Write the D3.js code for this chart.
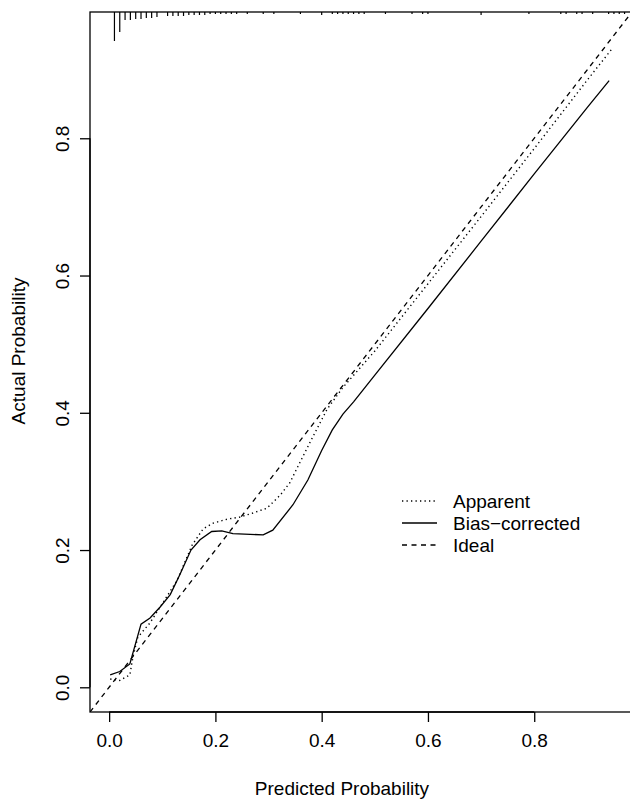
<!DOCTYPE html>
<html>
<head>
<meta charset="utf-8">
<script src="https://cdn.jsdelivr.net/npm/d3@7"></script>
<style>
  html, body { margin: 0; padding: 0; background: #fff; }
  svg text { font-family: "Liberation Sans", Arial, sans-serif; fill: #000; }
</style>
</head>
<body>
<svg id="chart" width="630" height="800"></svg>
<script>
// Calibration curve: predicted vs. actual probability

const axisTicks = [0.0, 0.2, 0.4, 0.6, 0.8];
const tickLabels = ["0.0", "0.2", "0.4", "0.6", "0.8"];

// Apparent calibration (dotted)
const apparentX = [0.002, 0.020, 0.039, 0.045, 0.054, 0.077, 0.101, 0.128, 0.156, 0.177, 0.195, 0.222, 0.246, 0.271, 0.297, 0.322, 0.340, 0.380, 0.410, 0.440, 0.500, 0.600, 0.700, 0.800, 0.900, 0.946];
const apparentY = [0.012, 0.010, 0.018, 0.045, 0.073, 0.094, 0.123, 0.156, 0.207, 0.231, 0.239, 0.245, 0.248, 0.254, 0.261, 0.280, 0.298, 0.360, 0.405, 0.437, 0.490, 0.588, 0.686, 0.785, 0.885, 0.930];

// Bias-corrected calibration (solid)
const biasX = [0.002, 0.020, 0.039, 0.060, 0.077, 0.096, 0.115, 0.133, 0.154, 0.171, 0.193, 0.212, 0.233, 0.290, 0.308, 0.346, 0.374, 0.400, 0.420, 0.440, 0.460, 0.500, 0.600, 0.700, 0.800, 0.900, 0.941];
const biasY = [0.018, 0.023, 0.034, 0.092, 0.101, 0.117, 0.135, 0.164, 0.200, 0.215, 0.227, 0.228, 0.224, 0.222, 0.229, 0.266, 0.302, 0.345, 0.375, 0.398, 0.416, 0.455, 0.552, 0.650, 0.748, 0.845, 0.884];

// Distribution of predicted probabilities (spike histogram along the top)
const rugX = [0.01, 0.02, 0.03, 0.04, 0.05, 0.06, 0.07, 0.08, 0.09, 0.11, 0.12, 0.13, 0.14, 0.15, 0.16, 0.17, 0.18, 0.19, 0.20, 0.21, 0.22, 0.23, 0.24, 0.26, 0.29, 0.31, 0.36, 0.40, 0.42, 0.43, 0.44, 0.45, 0.46, 0.47, 0.48, 0.52, 0.57, 0.59, 0.60, 0.70, 0.79, 0.85, 0.86, 0.88, 0.89, 0.91, 0.94, 0.95, 0.96, 0.97];
const rugCount = [28, 19, 7, 7, 6, 6, 5, 5, 4, 3, 3, 3, 3, 2, 2, 2, 2, 1, 1, 1, 1, 1, 1, 1, 1, 1, 1, 2, 1, 1, 1, 1, 1, 1, 1, 1, 1, 1, 1, 2, 1, 1, 1, 1, 1, 1, 1, 1, 1, 1];

const legendLabels = ["Apparent", "Bias\u2212corrected", "Ideal"];
const legendDash = ["1.3,3.2", null, "5,4.5"];

const svg = d3.select("#chart");
const plot = { left: 90, right: 632, top: 12, bottom: 712 };
const lim = [-0.036, 0.984];
const fontSize = 19;

const x = d3.scaleLinear().domain(lim).range([plot.left, plot.right]);
const y = d3.scaleLinear().domain(lim).range([plot.bottom, plot.top]);
const spike = d3.scaleLinear().domain([0, d3.max(rugCount)]).range([0, 28]);

svg.append("defs").append("clipPath").attr("id", "clip")
  .append("rect")
  .attr("x", plot.left).attr("y", plot.top)
  .attr("width", plot.right - plot.left).attr("height", plot.bottom - plot.top);

const g = svg.append("g").attr("clip-path", "url(#clip)");

// Ideal line y = x
g.append("line")
  .attr("x1", x(lim[0])).attr("y1", y(lim[0]))
  .attr("x2", x(lim[1])).attr("y2", y(lim[1]))
  .attr("stroke", "#000").attr("stroke-width", 1.3)
  .attr("stroke-dasharray", legendDash[2]);

const line = d3.line().x(d => x(d[0])).y(d => y(d[1]));

g.append("path")
  .datum(d3.zip(apparentX, apparentY))
  .attr("d", line)
  .attr("fill", "none").attr("stroke", "#000").attr("stroke-width", 1.4)
  .attr("stroke-dasharray", legendDash[0]);

g.append("path")
  .datum(d3.zip(biasX, biasY))
  .attr("d", line)
  .attr("fill", "none").attr("stroke", "#000").attr("stroke-width", 1.3);

// Spike histogram hanging from the top border
g.selectAll("line.spike")
  .data(d3.zip(rugX, rugCount))
  .join("line")
  .attr("class", "spike")
  .attr("x1", d => x(d[0])).attr("x2", d => x(d[0]))
  .attr("y1", plot.top).attr("y2", d => plot.top + 1 + spike(d[1]))
  .attr("stroke", "#000").attr("stroke-width", 1.2);

// Plot frame
svg.append("rect")
  .attr("x", plot.left).attr("y", plot.top)
  .attr("width", plot.right - plot.left).attr("height", plot.bottom - plot.top)
  .attr("fill", "none").attr("stroke", "#000").attr("stroke-width", 1.3);

// X axis
const xAxis = d3.axisBottom(x).tickValues(axisTicks)
  .tickFormat((d, i) => tickLabels[i]).tickSize(10).tickPadding(12);
const xg = svg.append("g").attr("transform", `translate(0,${plot.bottom})`).call(xAxis);
xg.select(".domain").attr("d", `M${x(axisTicks[0])},0H${x(axisTicks[axisTicks.length - 1])}`)
  .attr("stroke-width", 1.3);
xg.selectAll(".tick line").attr("stroke-width", 1.3);
xg.selectAll(".tick text").attr("font-size", fontSize).attr("font-family", null);

// Y axis (labels parallel to the axis)
const yAxis = d3.axisLeft(y).tickValues(axisTicks)
  .tickFormat((d, i) => tickLabels[i]).tickSize(10);
const yg = svg.append("g").attr("transform", `translate(${plot.left},0)`).call(yAxis);
yg.select(".domain").attr("d", `M0,${y(axisTicks[0])}V${y(axisTicks[axisTicks.length - 1])}`)
  .attr("stroke-width", 1.3);
yg.selectAll(".tick line").attr("stroke-width", 1.3);
yg.selectAll(".tick text")
  .attr("font-size", fontSize).attr("font-family", null)
  .attr("x", null).attr("dy", null)
  .attr("text-anchor", "middle")
  .attr("dominant-baseline", "central")
  .attr("transform", "translate(-28,0) rotate(-90)");

// Axis titles
svg.append("text")
  .attr("x", 342).attr("y", 788)
  .attr("text-anchor", "middle").attr("dominant-baseline", "central")
  .attr("font-size", fontSize)
  .text("Predicted Probability");

svg.append("text")
  .attr("transform", "translate(18,351) rotate(-90)")
  .attr("text-anchor", "middle").attr("dominant-baseline", "central")
  .attr("font-size", fontSize)
  .text("Actual Probability");

// Legend
const legendY = [501, 523, 545];
const lg = svg.append("g");
legendLabels.forEach((label, i) => {
  const ln = lg.append("line")
    .attr("x1", 402).attr("x2", 437)
    .attr("y1", legendY[i]).attr("y2", legendY[i])
    .attr("stroke", "#000").attr("stroke-width", 1.3);
  if (legendDash[i]) ln.attr("stroke-dasharray", legendDash[i]);
  lg.append("text")
    .attr("x", 453).attr("y", legendY[i])
    .attr("dominant-baseline", "central")
    .attr("font-size", fontSize)
    .text(label);
});
</script>
</body>
</html>
